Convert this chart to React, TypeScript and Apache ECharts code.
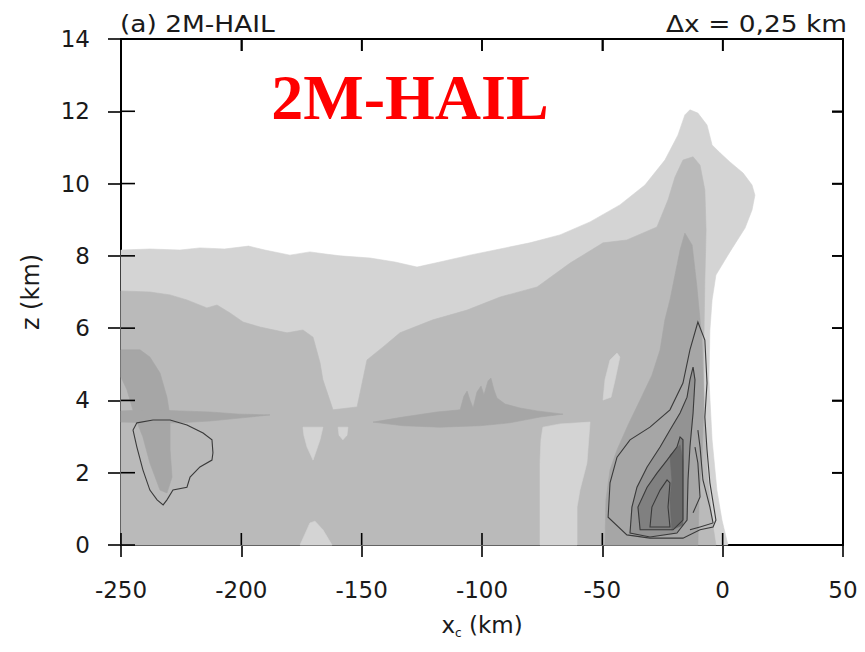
import React, { useEffect, useRef } from "react";
import * as echarts from "echarts";

type Pt = [number, number];

// Axis settings and tick labels
const X_MIN = -250;
const X_MAX = 50;
const X_STEP = 50;
const Z_MIN = 0;
const Z_MAX = 14;
const Z_STEP = 2;
const X_TICKS = [-250, -200, -150, -100, -50, 0, 50];
const Z_TICKS = [0, 2, 4, 6, 8, 10, 12, 14];

// Filled contour regions (x_c in km, z in km)
const envelope: Pt[] = [
  [-250, 0], [-250, 8.16], [-238.0, 8.19], [-225.5, 8.16], [-217.2, 8.22], [-207.0, 8.19],
  [-197.0, 8.27], [-190.2, 8.16], [-179.8, 8.02], [-171.5, 8.11], [-165.0, 8.05], [-159.0, 8.0],
  [-146.5, 7.94], [-136.2, 7.83], [-127.0, 7.69], [-117.5, 7.83], [-105.0, 8.02], [-92.5, 8.19],
  [-80.1, 8.36], [-67.6, 8.58], [-55.1, 8.94], [-42.7, 9.41], [-32.3, 9.96], [-24.0, 10.65],
  [-18.6, 11.34], [-15.7, 11.9], [-13.6, 12.04], [-10.3, 11.95], [-6.5, 11.62], [-4.4, 11.07],
  [-1.1, 10.85], [3.0, 10.6], [8.5, 10.29], [12.2, 9.96], [13.4, 9.68], [12.2, 9.27], [9.3, 8.77],
  [3.0, 8.11], [-2.8, 7.47], [-4.4, 6.78], [-5.3, 5.95], [-5.7, 4.57], [-4.4, 2.91], [-2.4, 1.52],
  [-0.3, 0.69], [2.2, 0],
];

const level2: Pt[] = [
  [-250, 0], [-250, 7.03], [-238.0, 7.0], [-229.6, 6.92], [-222.6, 6.78], [-214.3, 6.56],
  [-210.1, 6.64], [-204.7, 6.42], [-199.3, 6.17], [-192.2, 6.03], [-181.0, 5.87], [-174.4, 5.95],
  [-170.2, 5.75], [-167.3, 5.04], [-166.1, 4.57], [-161.9, 3.74], [-151.9, 3.82], [-147.8, 5.12],
  [-141.1, 5.48], [-134.1, 5.87], [-120.4, 6.23], [-106.2, 6.5], [-92.5, 6.86], [-77.1, 7.14],
  [-63.4, 7.8], [-49.7, 8.36], [-39.8, 8.44], [-27.3, 8.8], [-22.7, 9.55], [-19.8, 10.18],
  [-16.5, 10.65], [-12.3, 10.74], [-9.4, 10.51], [-7.4, 9.82], [-6.9, 8.72], [-7.4, 7.33],
  [-7.8, 5.67], [-7.8, 4.01], [-6.5, 2.08], [-4.4, 0.69], [-2.8, 0],
];

const lightBase: Pt[] = [[-175.6, 0], [-171.5, 0.61], [-169.4, 0.66], [-166.1, 0.42], [-162.3, 0]];
const lightHoleA: Pt[] = [[-174.4, 3.26], [-166.1, 3.26], [-167.3, 2.91], [-170.2, 2.35], [-172.7, 2.71], [-174.0, 3.04]];
const lightHoleB: Pt[] = [[-159.8, 3.26], [-155.7, 3.26], [-156.1, 3.04], [-157.8, 2.91], [-159.4, 3.04]];
const lightStrip: Pt[] = [
  [-74.7, 3.26], [-67.6, 3.35], [-55.1, 3.4], [-56.4, 2.27], [-59.3, 1.52], [-60.5, 1.05],
  [-60.5, 0], [-75.9, 0], [-75.9, 2.27], [-75.5, 2.91],
];
const lightSliver: Pt[] = [[-49.7, 4.01], [-48.9, 4.57], [-46.8, 5.12], [-43.9, 5.31], [-42.7, 5.2], [-44.7, 4.57], [-46.4, 4.09]];

const level3Slant: Pt[] = [
  [-250, 5.4], [-242.1, 5.4], [-238.0, 5.2], [-233.8, 4.76], [-230.9, 4.09], [-229.6, 3.54],
  [-229.6, 2.63], [-228.8, 1.88], [-230.9, 1.44], [-233.8, 1.52], [-238.0, 2.27], [-240.9, 2.99],
  [-244.2, 3.54], [-247.5, 4.29], [-250, 4.65],
];
const level3BandLeft: Pt[] = [
  [-250, 3.71], [-238.0, 3.74], [-225.5, 3.71], [-213.0, 3.68], [-200.6, 3.62], [-188.1, 3.6],
  [-196.4, 3.54], [-213.0, 3.43], [-225.5, 3.38], [-238.0, 3.38], [-250, 3.4],
];
const level3BandMid: Pt[] = [
  [-145.3, 3.4], [-132.8, 3.54], [-118.7, 3.68], [-109.1, 3.74], [-107.5, 4.12], [-106.2, 4.26],
  [-105.0, 4.01], [-103.7, 3.79], [-102.1, 4.23], [-100.4, 4.4], [-99.2, 4.15], [-97.5, 4.54],
  [-96.3, 4.62], [-95.0, 4.29], [-93.8, 4.07], [-90.4, 3.9], [-84.2, 3.79], [-77.1, 3.71],
  [-66.3, 3.62], [-75.9, 3.54], [-88.4, 3.38], [-100.8, 3.3], [-117.5, 3.26], [-132.8, 3.3],
];
const level3Column: Pt[] = [
  [-15.7, 8.63], [-12.7, 8.3], [-10.7, 7.14], [-8.6, 5.67], [-7.8, 4.01], [-8.6, 2.35],
  [-9.8, 1.25], [-10.3, 0], [-48.9, 0], [-48.5, 1.25], [-46.8, 2.08], [-43.9, 2.63],
  [-39.3, 3.32], [-34.3, 4.01], [-29.4, 4.7], [-26.0, 5.4], [-24.0, 6.23], [-21.9, 6.78],
  [-19.8, 7.47], [-17.7, 8.16],
];

// Line contours (also used as fills for the darker cores)
const contourOuter: Pt[] = [
  [-10.3, 6.17], [-7.4, 5.67], [-6.5, 4.48], [-7.4, 3.54], [-6.5, 2.63], [-5.3, 1.72],
  [-2.8, 0.69], [-4.0, 0.5], [-9.4, 0.42], [-16.5, 0.19], [-30.2, 0.19], [-39.8, 0.28],
  [-47.6, 0.77], [-46.8, 1.72], [-43.9, 2.43], [-38.5, 2.91], [-30.2, 3.26], [-21.9, 3.74],
  [-16.5, 4.48], [-13.6, 5.4],
];
const contourSecond: Pt[] = [
  [-38.5, 0.33], [-37.7, 1.05], [-35.6, 1.6], [-31.4, 2.16], [-26.0, 2.71], [-21.9, 3.18],
  [-17.7, 3.65], [-14.8, 4.09], [-13.6, 4.57], [-12.3, 4.92], [-11.5, 4.57], [-12.3, 3.65],
  [-13.6, 2.71], [-14.4, 1.8], [-14.8, 0.69], [-19.0, 0.33], [-30.2, 0.22],
];
const contourThird: Pt[] = [
  [-34.3, 0.42], [-35.2, 1.05], [-31.4, 1.6], [-27.3, 1.99], [-23.1, 2.35], [-19.0, 2.71],
  [-17.7, 2.99], [-16.5, 2.91], [-16.5, 1.8], [-16.5, 0.69], [-20.6, 0.42],
];
const contourFourth: Pt[] = [
  [-30.2, 0.5], [-29.4, 1.05], [-26.0, 1.52], [-23.1, 1.8], [-21.9, 1.72], [-22.7, 1.05], [-21.9, 0.5],
];
const coreDarkest: Pt[] = [
  [-21.9, 2.49], [-17.7, 2.77], [-16.5, 2.35], [-16.5, 0.55], [-21.1, 0.42], [-21.9, 1.25], [-21.1, 1.8],
];
const contourRightA: Pt[] = [[-13.6, 0.42], [-9.4, 0.5], [-4.0, 0.61], [-5.3, 1.05], [-8.2, 1.8], [-9.4, 2.71], [-10.3, 3.18]];
const contourRightB: Pt[] = [[-12.3, 0.89], [-9.4, 1.33], [-10.3, 2.27], [-11.5, 2.71]];
const contourLeft: Pt[] = [
  [-243.4, 3.38], [-236.7, 3.46], [-229.6, 3.46], [-222.6, 3.32], [-215.9, 3.1], [-212.2, 2.91],
  [-211.8, 2.55], [-212.2, 2.35], [-217.2, 2.16], [-221.3, 1.88], [-222.6, 1.6], [-228.4, 1.52],
  [-230.9, 1.25], [-232.5, 1.11], [-235.0, 1.25], [-238.0, 1.52], [-240.9, 2.08], [-243.4, 2.71],
  [-245.0, 3.18],
];

// Styles
const SHADE = ["#d4d4d4", "#bababa", "#a6a6a6", "#939393", "#808080", "#6a6a6a"];
const LINE_COLOR = "#3a3a3a";
const FONT = '"DejaVu Sans", "Liberation Sans", sans-serif';

const FILLS: { pts: Pt[]; color: string }[] = [
  { pts: envelope, color: SHADE[0] },
  { pts: level2, color: SHADE[1] },
  { pts: lightBase, color: SHADE[0] },
  { pts: lightHoleA, color: SHADE[0] },
  { pts: lightHoleB, color: SHADE[0] },
  { pts: lightStrip, color: SHADE[0] },
  { pts: lightSliver, color: SHADE[0] },
  { pts: level3Slant, color: SHADE[2] },
  { pts: level3BandLeft, color: SHADE[2] },
  { pts: level3BandMid, color: SHADE[2] },
  { pts: level3Column, color: SHADE[2] },
  { pts: contourSecond, color: SHADE[3] },
  { pts: contourThird, color: SHADE[4] },
  { pts: coreDarkest, color: SHADE[5] },
];

const LINES: { pts: Pt[]; closed: boolean }[] = [
  { pts: contourOuter, closed: true },
  { pts: contourSecond, closed: true },
  { pts: contourThird, closed: true },
  { pts: contourFourth, closed: true },
  { pts: contourRightA, closed: false },
  { pts: contourRightB, closed: false },
  { pts: contourLeft, closed: true },
];

// Inward tick marks on the four sides of the frame
const TICK_MARKS: { side: string; v: number }[] = [
  ...X_TICKS.map((v) => ({ side: "bottom", v })),
  ...X_TICKS.map((v) => ({ side: "top", v })),
  ...Z_TICKS.map((v) => ({ side: "left", v })),
  ...Z_TICKS.map((v) => ({ side: "right", v })),
];
const TICK_LEN: Record<string, number> = { bottom: 12, top: 12, left: 14, right: 11 };

export default function App() {
  const ref = useRef<HTMLDivElement>(null);

  useEffect(() => {
    document.body.style.margin = "0";
    if (!ref.current) return;
    const chart = echarts.init(ref.current, undefined, { renderer: "svg" });

    const axisLine = { show: true, onZero: false, lineStyle: { color: "#000", width: 2 } };
    const tickStyle = { color: "#000", width: 1.6 };
    const fillCount = FILLS.length;

    // rectangle (as polygon points) for one tick mark, in pixels, from the axis scale
    const tickRect = (api: any, t: { side: string; v: number }) => {
      const len = TICK_LEN[t.side];
      const h = 0.8;
      if (t.side === "bottom" || t.side === "top") {
        const b = api.coord([t.v, t.side === "bottom" ? Z_MIN : Z_MAX]);
        const d = t.side === "bottom" ? -len : len;
        return [[b[0] - h, b[1]], [b[0] + h, b[1]], [b[0] + h, b[1] + d], [b[0] - h, b[1] + d]];
      }
      const b = api.coord([t.side === "left" ? X_MIN : X_MAX, t.v]);
      const d = t.side === "left" ? len : -len;
      return [[b[0], b[1] - h], [b[0], b[1] + h], [b[0] + d, b[1] + h], [b[0] + d, b[1] - h]];
    };

    const option: any = {
      animation: false,
      grid: { left: 121, right: 22, top: 39, bottom: 107 },
      xAxis: [
        {
          type: "value", position: "bottom", min: X_MIN, max: X_MAX, interval: X_STEP,
          axisLine, splitLine: { show: false },
          axisTick: { show: true, inside: false, length: 12, lineStyle: tickStyle },
          axisLabel: { margin: 33, fontFamily: FONT, fontSize: 23, color: "#1a1a1a" },
          name: "x{s|c} (km)", nameLocation: "middle", nameGap: 66,
          nameTextStyle: {
            fontFamily: FONT, fontSize: 23, color: "#1a1a1a", lineHeight: 28,
            rich: { s: { fontFamily: FONT, fontSize: 12, color: "#1a1a1a", verticalAlign: "bottom", lineHeight: 24 } },
          },
        },
        {
          type: "value", position: "top", min: X_MIN, max: X_MAX, interval: X_STEP,
          axisLine, splitLine: { show: false },
          axisTick: { show: true, inside: true, length: 12, lineStyle: tickStyle },
          axisLabel: { show: true, formatter: () => "" },
        },
      ],
      yAxis: [
        {
          type: "value", position: "left", min: Z_MIN, max: Z_MAX, interval: Z_STEP,
          axisLine, splitLine: { show: false },
          axisTick: { show: true, inside: false, length: 13, lineStyle: tickStyle },
          axisLabel: { margin: 31, fontFamily: FONT, fontSize: 23, color: "#1a1a1a" },
          name: "z (km)", nameLocation: "middle", nameGap: 78,
          nameTextStyle: { fontFamily: FONT, fontSize: 24, color: "#1a1a1a" },
        },
        {
          type: "value", position: "right", min: Z_MIN, max: Z_MAX, interval: Z_STEP,
          axisLine, splitLine: { show: false },
          axisTick: { show: true, inside: true, length: 11, lineStyle: tickStyle },
          axisLabel: { show: true, formatter: () => "" },
        },
      ],
      series: [
        {
          type: "custom",
          xAxisIndex: 0,
          yAxisIndex: 0,
          silent: true,
          encode: { x: 0, y: 1 },
          data: [
            ...FILLS.map((f) => f.pts[0]),
            ...TICK_MARKS.map((t) => (t.side === "bottom" || t.side === "top" ? [t.v, Z_MIN] : [X_MIN, t.v])),
          ],
          renderItem: (params: any, api: any) => {
            const i = params.dataIndex;
            if (i < fillCount) {
              const f = FILLS[i];
              return {
                type: "polygon",
                shape: { points: f.pts.map((p) => api.coord(p)) },
                style: { fill: f.color, stroke: f.color, lineWidth: 0.6 },
              };
            }
            return {
              type: "polygon",
              shape: { points: tickRect(api, TICK_MARKS[i - fillCount]) },
              style: { fill: "#000" },
            };
          },
        },
        {
          type: "custom",
          xAxisIndex: 0,
          yAxisIndex: 0,
          silent: true,
          encode: { x: 0, y: 1 },
          data: LINES.map((l) => l.pts[0]),
          renderItem: (params: any, api: any) => {
            const l = LINES[params.dataIndex];
            return {
              type: l.closed ? "polygon" : "polyline",
              shape: { points: l.pts.map((p) => api.coord(p)) },
              style: { fill: "none", stroke: LINE_COLOR, lineWidth: 1.1 },
            };
          },
        },
      ],
      graphic: [
        {
          type: "text", x: 120, y: 24, scaleX: 1.15,
          style: {
            text: "(a) 2M-HAIL", font: `23px ${FONT}`, fill: "#1a1a1a",
            align: "left", verticalAlign: "middle", textAlign: "left", textVerticalAlign: "middle",
          },
        },
        {
          type: "text", x: 847, y: 24, scaleX: 1.15,
          style: {
            text: "Δx = 0,25 km", font: `23px ${FONT}`, fill: "#1a1a1a",
            align: "right", verticalAlign: "middle", textAlign: "right", textVerticalAlign: "middle",
          },
        },
        {
          type: "text", x: 410, y: 97,
          style: {
            text: "2M-HAIL", font: 'bold 64px "Liberation Serif", "Times New Roman", serif', fill: "#ff0000",
            align: "center", verticalAlign: "middle", textAlign: "center", textVerticalAlign: "middle",
          },
        },
      ],
    };

    chart.setOption(option);
    return () => chart.dispose();
  }, []);

  return <div ref={ref} style={{ width: 865, height: 652 }} />;
}
